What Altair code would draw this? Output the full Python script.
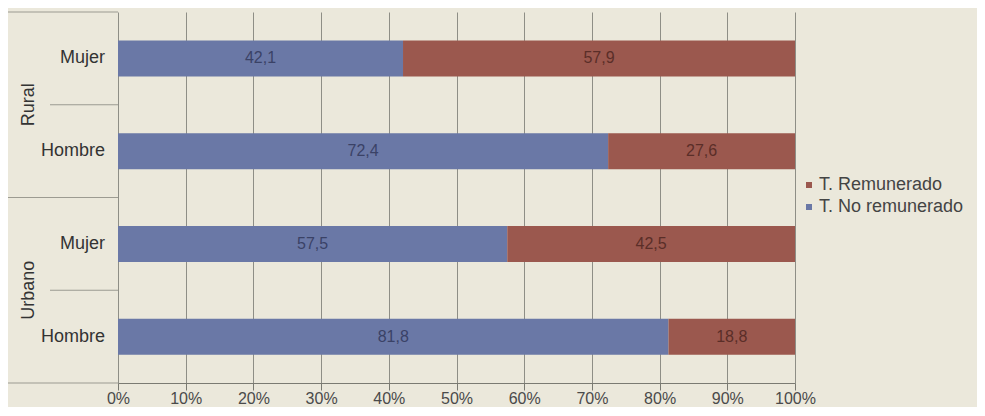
import altair as alt
import pandas as pd

zones = ["Rural", "Rural", "Urbano", "Urbano"]
sexes = ["Mujer", "Hombre", "Mujer", "Hombre"]
no_rem = [42.1, 72.4, 57.5, 81.8]
rem = [57.9, 27.6, 42.5, 18.8]
series = ["T. No remunerado", "T. Remunerado"]
legend_order = ["T. Remunerado", "T. No remunerado"]
colors = ["#9b584e", "#6a78a6"]
text_colors = {"T. Remunerado": "#5a2e28", "T. No remunerado": "#3a4266"}
ticks = list(range(0, 101, 10))

FONT = "Liberation Sans"

rows = []
for i, (z, s, a, b) in enumerate(zip(zones, sexes, no_rem, rem)):
    tot = a + b
    start = 0.0
    for name, v in zip(series, [a, b]):
        end = start + v / tot * 100
        rows.append(dict(row=i + 0.5, zone=z, sex=s, serie=name, start=start,
                         end=end, mid=(start + end) / 2, tcolor=text_colors[name],
                         label=f"{v:.1f}".replace(".", ",")))
        start = end
df = pd.DataFrame(rows)

n = len(sexes)
cats = pd.DataFrame({"row": [i + 0.5 for i in range(n)], "sex": sexes})
zone_names = list(dict.fromkeys(zones))
grp = pd.DataFrame({"zone": zone_names,
                    "row": [sum(i + 0.5 for i in range(n) if zones[i] == z) / zones.count(z) for z in zone_names]})

long_sep = pd.DataFrame({"b": [b for b in range(0, n + 1) if b % 2 == 0]})
short_sep = pd.DataFrame({"b": [b for b in range(0, n + 1) if b % 2 == 1]})

ysc = alt.Scale(domain=[0, n], reverse=True, nice=False, zero=False, padding=0)
xsc = alt.Scale(domain=[0, 100], nice=False, padding=0)
xaxis = alt.Axis(values=ticks, labelExpr="datum.value + '%'", grid=True, title=None,
                 gridColor="#8e8e86", gridWidth=1, domainColor="#7a7a72",
                 tickColor="#7a7a72", tickSize=7, labelPadding=0, labelFlush=False,
                 labelFont=FONT, labelFontSize=16, labelColor="#4a4a4a")

bars = alt.Chart(df).mark_bar(size=36).encode(
    x=alt.X("start:Q", scale=xsc, title=None, axis=xaxis),
    x2="end:Q",
    y=alt.Y("row:Q", scale=ysc, axis=None),
    color=alt.Color("serie:N", scale=alt.Scale(domain=legend_order, range=colors),
                    legend=alt.Legend(title=None, orient="none", legendX=682, legendY=164,
                                      symbolType="square", symbolSize=36, symbolStrokeWidth=0,
                                      labelFont=FONT, labelFontSize=18, labelColor="#444444",
                                      labelOffset=1, rowPadding=4, padding=0)),
)

vals = alt.Chart(df).mark_text(font=FONT, fontSize=16).encode(
    x=alt.X("mid:Q", scale=xsc, title=None, axis=xaxis),
    y=alt.Y("row:Q", scale=ysc, axis=None),
    text="label:N",
    color=alt.Color("tcolor:N", scale=None, legend=None),
)

cat_labels = alt.Chart(cats).mark_text(font=FONT, fontSize=18, align="right", dx=-13, color="#333333").encode(
    x=alt.value(0),
    y=alt.Y("row:Q", scale=ysc, axis=None),
    text="sex:N",
)

grp_labels = alt.Chart(grp).mark_text(font=FONT, fontSize=18, angle=270, color="#333333").encode(
    x=alt.value(-89),
    y=alt.Y("row:Q", scale=ysc, axis=None),
    text="zone:N",
)

long_rules = alt.Chart(long_sep).mark_tick(orient="horizontal", size=110, thickness=1, color="#7a7a72").encode(
    x=alt.value(-55),
    y=alt.Y("b:Q", scale=ysc, axis=None),
)
short_rules = alt.Chart(short_sep).mark_tick(orient="horizontal", size=68, thickness=1, color="#7a7a72").encode(
    x=alt.value(-34),
    y=alt.Y("b:Q", scale=ysc, axis=None),
)

chart = alt.layer(long_rules, short_rules, bars, vals, cat_labels, grp_labels).properties(
    width=677, height=371,
    autosize=alt.AutoSizeParams(type="none"),
    padding={"left": 110, "top": 4, "right": 182, "bottom": 24},
    background="#ebe8db",
).configure_view(stroke=None)

chart.save("out.html", embed_options={"renderer": "svg", "actions": False})
